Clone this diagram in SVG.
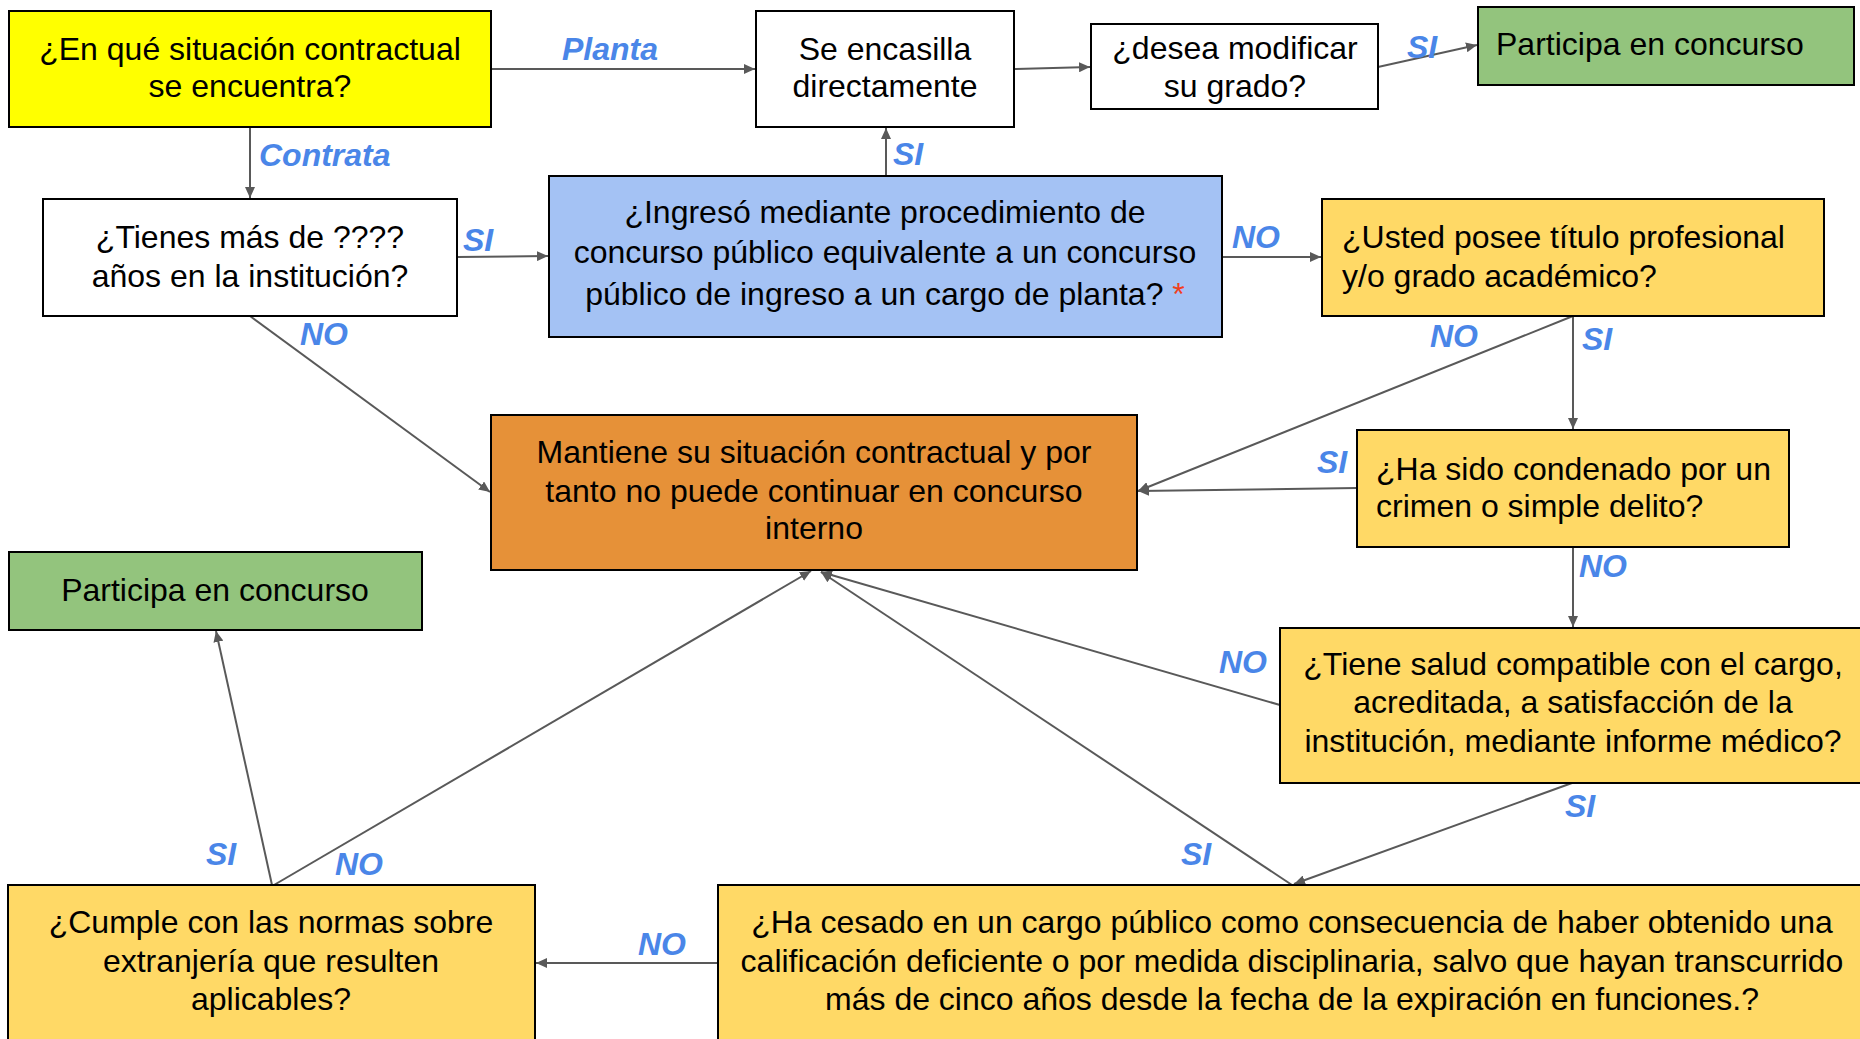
<svg xmlns="http://www.w3.org/2000/svg" width="1860" height="1039" viewBox="0 0 1860 1039">
<style>
.box{stroke:#000;stroke-width:2}
.t{font-family:"Liberation Sans",Arial,sans-serif;font-size:32px;fill:#000}
.c{text-anchor:middle}
.lbl{font-family:"Liberation Sans",Arial,sans-serif;font-size:32px;font-weight:bold;font-style:italic;fill:#4a86e8}
.ln{stroke:#595959;stroke-width:2;fill:none;marker-end:url(#ah)}
</style>
<defs>
<marker id="ah" markerUnits="userSpaceOnUse" markerWidth="12" markerHeight="10" refX="11" refY="5" orient="auto">
<path d="M0,0 L11,5 L0,10 z" fill="#595959"/>
</marker>
</defs>
<rect width="1860" height="1039" fill="#fff"/>
<g id="connectors">
<line class="ln" x1="491" y1="69" x2="755" y2="69"/>
<line class="ln" x1="250" y1="127" x2="250" y2="198"/>
<line class="ln" x1="457" y1="257" x2="548" y2="256"/>
<line class="ln" x1="886" y1="175" x2="886" y2="128"/>
<line class="ln" x1="1014" y1="69" x2="1090" y2="67"/>
<line class="ln" x1="1378" y1="67" x2="1477" y2="45"/>
<line class="ln" x1="1222" y1="257" x2="1321" y2="257"/>
<line class="ln" x1="250" y1="316" x2="490" y2="492"/>
<line class="ln" x1="1573" y1="316" x2="1573" y2="429"/>
<line class="ln" x1="1573" y1="316" x2="1138" y2="491"/>
<line class="ln" x1="1357" y1="488" x2="1138" y2="491"/>
<line class="ln" x1="1573" y1="547" x2="1573" y2="627"/>
<line class="ln" x1="1280" y1="705" x2="821" y2="572"/>
<line class="ln" x1="1572" y1="783" x2="1294" y2="884"/>
<line class="ln" x1="1292" y1="885" x2="821" y2="572"/>
<line class="ln" x1="718" y1="963" x2="536" y2="963"/>
<line class="ln" x1="272" y1="885" x2="216" y2="631"/>
<line class="ln" x1="274" y1="885" x2="811" y2="571"/>
<text class="lbl" x="562" y="60">Planta</text>
<text class="lbl" x="259" y="166">Contrata</text>
<text class="lbl" x="463" y="251">SI</text>
<text class="lbl" x="300" y="345">NO</text>
<text class="lbl" x="893" y="165">SI</text>
<text class="lbl" x="1407" y="58">SI</text>
<text class="lbl" x="1232" y="248">NO</text>
<text class="lbl" x="1430" y="347">NO</text>
<text class="lbl" x="1582" y="350">SI</text>
<text class="lbl" x="1317" y="473">SI</text>
<text class="lbl" x="1579" y="577">NO</text>
<text class="lbl" x="1219" y="673">NO</text>
<text class="lbl" x="1565" y="817">SI</text>
<text class="lbl" x="1181" y="865">SI</text>
<text class="lbl" x="638" y="955">NO</text>
<text class="lbl" x="206" y="865">SI</text>
<text class="lbl" x="335" y="875">NO</text>
</g>
<g id="n-situacion">
<rect class="box" x="9" y="11" width="482" height="116" fill="#ffff00"/>
<text class="t c" x="250" y="60">¿En qué situación contractual</text>
<text class="t c" x="250" y="97">se encuentra?</text>
</g>
<g id="n-encasilla">
<rect class="box" x="756" y="11" width="258" height="116" fill="#fff"/>
<text class="t c" x="885" y="60">Se encasilla</text>
<text class="t c" x="885" y="97">directamente</text>
</g>
<g id="n-modificar">
<rect class="box" x="1091" y="24" width="287" height="85" fill="#fff"/>
<text class="t c" x="1235" y="59">¿desea modificar</text>
<text class="t c" x="1235" y="97">su grado?</text>
</g>
<g id="n-participa1">
<rect class="box" x="1478" y="7" width="376" height="78" fill="#93c47d"/>
<text class="t" x="1496" y="55">Participa en concurso</text>
</g>
<g id="n-tienes">
<rect class="box" x="43" y="199" width="414" height="117" fill="#fff"/>
<text class="t c" x="250" y="248">¿Tienes más de ????</text>
<text class="t c" x="250" y="287">años en la institución?</text>
</g>
<g id="n-ingreso">
<rect class="box" x="549" y="176" width="673" height="161" fill="#a4c2f4"/>
<text class="t c" x="885" y="223">¿Ingresó mediante procedimiento de</text>
<text class="t c" x="885" y="263">concurso público equivalente a un concurso</text>
<text class="t c" x="885" y="305">público de ingreso a un cargo de planta? <tspan fill="#f0401e">*</tspan></text>
</g>
<g id="n-titulo">
<rect class="box" x="1322" y="199" width="502" height="117" fill="#ffd966"/>
<text class="t" x="1342" y="248">¿Usted posee título profesional</text>
<text class="t" x="1342" y="287">y/o grado académico?</text>
</g>
<g id="n-mantiene">
<rect class="box" x="491" y="415" width="646" height="155" fill="#e69138"/>
<text class="t c" x="814" y="463">Mantiene su situación contractual y por</text>
<text class="t c" x="814" y="502">tanto no puede continuar en concurso</text>
<text class="t c" x="814" y="539">interno</text>
</g>
<g id="n-condenado">
<rect class="box" x="1357" y="430" width="432" height="117" fill="#ffd966"/>
<text class="t" x="1376" y="480">¿Ha sido condenado por un</text>
<text class="t" x="1376" y="517">crimen o simple delito?</text>
</g>
<g id="n-participa2">
<rect class="box" x="9" y="552" width="413" height="78" fill="#93c47d"/>
<text class="t c" x="215" y="601">Participa en concurso</text>
</g>
<g id="n-salud">
<rect class="box" x="1280" y="628" width="600" height="155" fill="#ffd966"/>
<text class="t c" x="1573" y="675">¿Tiene salud compatible con el cargo,</text>
<text class="t c" x="1573" y="713">acreditada, a satisfacción de la</text>
<text class="t c" x="1573" y="752">institución, mediante informe médico?</text>
</g>
<g id="n-cumple">
<rect class="box" x="8" y="885" width="527" height="170" fill="#ffd966"/>
<text class="t c" x="271" y="933">¿Cumple con las normas sobre</text>
<text class="t c" x="271" y="972">extranjería que resulten</text>
<text class="t c" x="271" y="1010">aplicables?</text>
</g>
<g id="n-cesado">
<rect class="box" x="718" y="885" width="1160" height="170" fill="#ffd966"/>
<text class="t c" x="1292" y="933">¿Ha cesado en un cargo público como consecuencia de haber obtenido una</text>
<text class="t c" x="1292" y="972">calificación deficiente o por medida disciplinaria, salvo que hayan transcurrido</text>
<text class="t c" x="1292" y="1010">más de cinco años desde la fecha de la expiración en funciones.?</text>
</g>
</svg>
